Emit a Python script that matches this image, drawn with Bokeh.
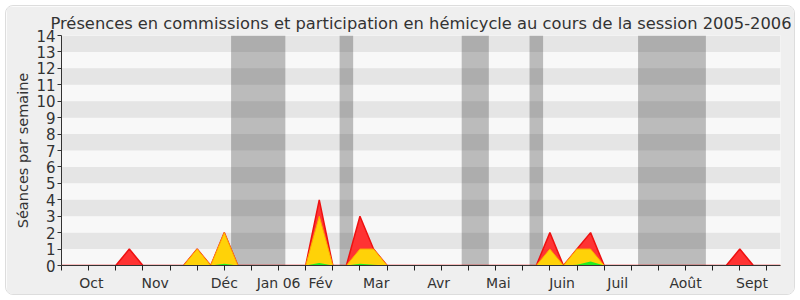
from bokeh.plotting import figure
from bokeh.models import Range1d, FixedTicker, LinearAxis, BoxAnnotation
from bokeh.embed import file_html
from bokeh.resources import INLINE

weeks = list(range(54))
red_vals = [0]*54
yellow_vals = [0]*54
green_vals = [0]*54
for i, v in {5: 1, 10: 1, 12: 2, 19: 4, 22: 3, 23: 1, 36: 2, 38: 1, 39: 2, 50: 1}.items():
    red_vals[i] = v
for i, v in {10: 1, 12: 2, 19: 3, 22: 1, 23: 1, 36: 1, 38: 1, 39: 1}.items():
    yellow_vals[i] = v
for i, v in {12: 0.1, 19: 0.15, 22: 0.1, 23: 0.05, 38: 0.05, 39: 0.25}.items():
    green_vals[i] = v

vac_start = [12.5, 20.5, 29.5, 34.5, 42.5]
vac_end = [16.5, 21.5, 31.5, 35.5, 47.5]

month_pos = [2.2, 6.9, 12, 16, 19.1, 23.2, 27.8, 32.2, 36.9, 41, 46, 50.9]
month_labels = ["Oct", "Nov", "Déc", "Jan 06", "Fév", "Mar", "Avr", "Mai", "Juin", "Juil", "Août", "Sept"]
y_ticks = list(range(15))

title = "Présences en commissions et participation en hémicycle au cours de la session 2005-2006"
FONT = "DejaVu Sans"

p = figure(width=790, height=290, output_backend="svg", toolbar_location=None,
           x_range=Range1d(0, 53), y_range=Range1d(0, 14),
           min_border_left=55, min_border_right=16, min_border_top=29, min_border_bottom=31,
           x_axis_location=None, y_axis_location=None)
p.margin = (5, 5, 5, 5)
p.styles = {"border-radius": "8px", "border": "1px solid #dddddd", "overflow": "hidden"}
p.border_fill_color = "#efefef"
p.background_fill_color = "#f8f8f8"
p.outline_line_color = None
p.xgrid.visible = False
p.ygrid.visible = False

p.title.text = title
p.title.text_font = FONT
p.title.text_font_size = "16.3px"
p.title.text_font_style = "normal"
p.title.text_color = "#333333"
p.title.align = "center"
p.title.offset = -9
p.title.standoff = 6

for k in range(1, 14, 2):
    p.add_layout(BoxAnnotation(bottom=k, top=k + 1, fill_color="#e5e5e5", fill_alpha=1, line_color=None, level="underlay"))

p.quad(left=vac_start, right=vac_end, bottom=0, top=14, fill_color="black", fill_alpha=0.245, line_color=None)

p.varea(x=weeks, y1=0, y2=red_vals, fill_color="#ff3333")
p.line(weeks, red_vals, line_color="#ee1111", line_width=1.5)
p.varea(x=weeks, y1=0, y2=yellow_vals, fill_color="#ffd208")
p.line(weeks, yellow_vals, line_color="#ffaa00", line_width=1)
p.varea(x=weeks, y1=0, y2=green_vals, fill_color="#22ee22")

# axes
xax = LinearAxis(ticker=FixedTicker(ticks=month_pos, minor_ticks=list(range(0, 54, 2))))
xax.major_label_overrides = {pos: lab for pos, lab in zip(month_pos, month_labels)}
xax.major_tick_out = 0
xax.major_tick_in = 0
xax.minor_tick_out = 5
xax.minor_tick_in = 0
xax.minor_tick_line_color = "#222222"
xax.axis_line_color = "#333333"
xax.major_label_text_font = FONT
xax.major_label_text_font_size = "14px"
xax.major_label_text_color = "#333333"
xax.major_label_standoff = 4
p.add_layout(xax, "below")

yax = LinearAxis(ticker=FixedTicker(ticks=y_ticks))
yax.major_tick_out = 4
yax.major_tick_in = 0
yax.minor_tick_line_color = None
yax.axis_line_color = "#333333"
yax.major_tick_line_color = "#333333"
yax.major_label_text_font = FONT
yax.major_label_text_font_size = "15px"
yax.major_label_text_color = "#333333"
yax.major_label_standoff = 2
yax.axis_label = "Séances par semaine"
yax.axis_label_text_font = FONT
yax.axis_label_text_font_size = "14.5px"
yax.axis_label_text_font_style = "normal"
yax.axis_label_text_color = "#333333"
yax.axis_label_standoff = 2
p.add_layout(yax, "left")

open("out.html", "w").write(file_html(p, INLINE))
